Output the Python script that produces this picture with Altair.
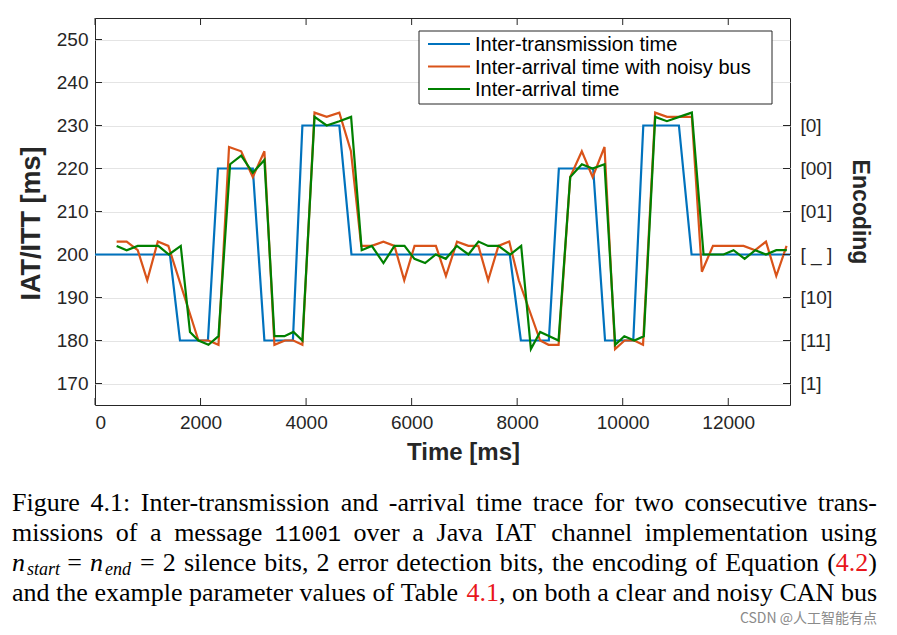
import altair as alt
import pandas as pd

# ---------------- data ----------------
series_names = ["Inter-transmission time", "Inter-arrival time with noisy bus", "Inter-arrival time"]
series_colors = ["#0072BD", "#D95319", "#008000"]

itt_t = [0, 1420, 1610, 2140, 2330, 2990, 3210, 3750, 3930, 4630, 4860, 7860, 8070, 8600,
         8790, 9440, 9665, 10200, 10390, 11065, 11305, 13170]
itt_v = [200, 200, 180, 180, 220, 220, 180, 180, 230, 230, 200, 200, 180, 180,
         220, 220, 180, 180, 230, 230, 200, 200]

noisy_t = [410, 600, 810, 990, 1190, 1390, 1960, 2150, 2340, 2540, 2770, 2990, 3210, 3400,
           3600, 3760, 3930, 4160, 4390, 4630, 4850, 5045, 5245, 5465, 5675, 5860, 6055, 6260,
           6460, 6650, 6860, 7075, 7265, 7450, 7645, 7850, 8030, 8435, 8595, 8785, 9005, 9225,
           9430, 9655, 9855, 10035, 10220, 10385, 10615, 10840, 11065, 11310, 11500, 11710,
           12290, 12510, 12715, 12910, 13105]
noisy_v = [203, 203, 201, 194, 203, 202, 180, 180, 179, 225, 224, 218, 224, 179,
           180, 180, 179, 233, 232, 233, 224, 202, 202, 203, 202, 194, 202, 202,
           202, 195, 203, 202, 202, 194, 202, 203, 194, 180, 179, 179, 218, 224,
           218, 225, 178, 180, 180, 179, 233, 232, 232, 232, 196, 202,
           202, 201, 203, 195, 202]

iat_t = [410, 600, 810, 1200, 1400, 1625, 1800, 1960, 2150, 2340, 2560, 2770, 2990, 3210,
         3400, 3590, 3760, 3930, 4160, 4390, 4630, 4853, 5054, 5245, 5466, 5675, 5865, 6053,
         6256, 6458, 6648, 6857, 7077, 7267, 7450, 7646, 7867, 8076, 8260, 8436, 8610, 8784,
         9005, 9226, 9427, 9655, 9858, 10030, 10220, 10400, 10616, 10837, 11070, 11310,
         11532, 11720, 11911, 12100, 12310, 12512, 12714, 12910, 13110]
iat_v = [202, 201, 202, 202, 200, 202, 182, 180, 179, 181, 221, 223, 219, 222,
         181, 181, 182, 180, 232, 230, 231, 232, 201, 202, 198, 202, 202, 199,
         198, 200, 199, 202, 200, 203, 202, 202, 200, 202, 178, 182, 181, 180,
         218, 221, 220, 221, 179, 181, 180, 181, 232, 231, 232, 233,
         200, 200, 200, 201, 199, 201, 200, 201, 201]

x_ticks = [0, 2000, 4000, 6000, 8000, 10000, 12000]
y_ticks = [170, 180, 190, 200, 210, 220, 230, 240, 250]
enc_values = [230, 220, 210, 200, 190, 180, 170]
enc_labels = ["[0]", "[00]", "[01]", "[ _ ]", "[10]", "[11]", "[1]"]

# caption tokens: (text, kind, glued-to-previous)
# kinds: "r" roman, "i" italic, "sub" italic subscript, "tt" typewriter, "red" red roman
caption_line1 = "Figure 4.1: Inter-transmission and -arrival time trace for two consecutive trans-"
caption_line2 = [("missions of a message", "r", False), ("11001", "tt", False),
                 ("over a Java IAT channel implementation using", "r", False)]
caption_line3 = [("n", "i", False), ("start", "sub", True), ("=", "r", False), ("n", "i", False),
                 ("end", "sub", True),
                 ("= 2 silence bits, 2 error detection bits, the encoding of Equation (", "r", False),
                 ("4.2", "red", True), (")", "r", True)]
caption_line4 = [("and the example parameter values of Table", "r", False), ("4.1", "red", False),
                 (",", "r", True), ("on both a clear and noisy CAN bus", "r", False)]
watermark = "CSDN @人工智能有点"

# ---------------- layout ----------------
W, H = 695, 387
FONT = "Liberation Sans"
SERIF = "Liberation Serif"
AX = "#262626"
RED = "#e8161b"

xscale = alt.Scale(domain=[0, 13170], nice=False, zero=False)
yscale = alt.Scale(domain=[165, 255], nice=False, zero=False)

x_enc = alt.X("t:Q", scale=xscale, axis=alt.Axis(
    values=x_ticks, format="d", title="Time [ms]", grid=False, ticks=False, domain=False,
    labelFontSize=19, labelPadding=8, labelColor=AX, titleFontSize=24, titleFontWeight="bold",
    titleColor=AX, titlePadding=8, titleX=368, labelFont=FONT, titleFont=FONT))
y_enc = alt.Y("v:Q", scale=yscale, axis=alt.Axis(
    values=y_ticks, title="IAT/ITT [ms]", grid=True, gridColor="#e4e4e4", gridWidth=1,
    ticks=False, domain=False, labelFontSize=19, labelPadding=7, labelColor=AX,
    titleFontSize=27, titleFontWeight="bold", titleColor=AX, titlePadding=11, titleY=205,
    labelFont=FONT, titleFont=FONT))

color = alt.Color("series:N", scale=alt.Scale(domain=series_names, range=series_colors),
                  legend=None)


def frame(ts, vs, name):
    return pd.DataFrame({"t": ts, "v": vs, "series": [name] * len(ts)})


def line(df):
    return alt.Chart(df).mark_line(strokeWidth=2.2).encode(x=x_enc, y=y_enc, color=color)


blue = line(frame(itt_t, itt_v, series_names[0]))
orange = line(frame(noisy_t, noisy_v, series_names[1]))
green = line(frame(iat_t, iat_v, series_names[2]))

ytick_df = pd.DataFrame({"v": y_ticks})
xtick_df = pd.DataFrame({"t": x_ticks})
left_ticks = alt.Chart(ytick_df).mark_rule(color=AX, strokeWidth=1).encode(
    y=y_enc, x=alt.value(0), x2=alt.value(7))
bottom_ticks = alt.Chart(xtick_df).mark_rule(color=AX, strokeWidth=1).encode(
    x=x_enc, y=alt.value(H - 7), y2=alt.value(H))
top_ticks = alt.Chart(xtick_df).mark_rule(color=AX, strokeWidth=1).encode(
    x=x_enc, y=alt.value(0), y2=alt.value(7))

main = alt.layer(left_ticks, bottom_ticks, top_ticks, blue, orange, green)

expr = "''"
for v, lab in zip(reversed(enc_values), reversed(enc_labels)):
    expr = f"datum.value == {v} ? '{lab}' : ({expr})"

enc_df = pd.DataFrame({"v": enc_values, "label": enc_labels})
right = alt.Chart(enc_df).mark_rule(color=AX, strokeWidth=1).encode(
    y=alt.Y("v:Q", scale=yscale, axis=alt.Axis(
        orient="right", values=enc_values, labelExpr=expr, title="Encoding",
        grid=False, ticks=False, domain=False, labelFontSize=19, labelPadding=10,
        labelColor=AX, titleFontSize=23, titleFontWeight="bold", titleColor=AX,
        titlePadding=16, labelFont=FONT, titleFont=FONT)),
    x=alt.value(W - 7), x2=alt.value(W))

OX, OY = 95, 18  # page position of plot origin

# ---------------- legend (drawn inside the plot, like MATLAB's) ----------------
one = pd.DataFrame({"k": [0]})
legend_layers = [alt.Chart(one).mark_rect(fill="white", stroke=AX, strokeWidth=1).encode(
    x=alt.value(419 - OX), x2=alt.value(772 - OX), y=alt.value(31 - OY), y2=alt.value(104 - OY))]
for i, (name, col) in enumerate(zip(series_names, series_colors)):
    yy = 44 - OY + 22.5 * i
    nd = pd.DataFrame({"series": [name]})
    legend_layers.append(alt.Chart(nd).mark_rule(color=col, strokeWidth=2.2).encode(
        x=alt.value(428 - OX), x2=alt.value(470 - OX), y=alt.value(yy)))
    legend_layers.append(alt.Chart(nd).mark_text(
        align="left", baseline="middle", font=FONT, fontSize=20, color="black").encode(
        text="series:N", x=alt.value(475 - OX), y=alt.value(yy + 1)))

# ---------------- caption (justified like the LaTeX figure caption) ----------------
TIMES = {" ": 250, "a": 444, "b": 500, "c": 444, "d": 500, "e": 444, "f": 333, "g": 500,
         "h": 500, "i": 278, "j": 278, "k": 500, "l": 278, "m": 778, "n": 500, "o": 500,
         "p": 500, "q": 500, "r": 333, "s": 389, "t": 278, "u": 500, "v": 500, "w": 722,
         "x": 500, "y": 500, "z": 444, "A": 722, "B": 667, "C": 667, "D": 722, "E": 611,
         "F": 556, "G": 722, "H": 722, "I": 333, "J": 389, "K": 722, "L": 611, "M": 889,
         "N": 722, "O": 722, "P": 556, "Q": 722, "R": 667, "S": 556, "T": 611, "U": 722,
         "V": 722, "W": 944, "X": 722, "Y": 722, "Z": 611, ".": 250, ",": 250, ":": 278,
         "-": 333, "(": 333, ")": 333, "=": 564}
CAP = 26
SUB = 18
LEFT, RIGHT = 12, 877


def tok_size(kind):
    return SUB if kind == "sub" else (22 if kind == "tt" else CAP)


def tok_width(text, kind):
    size = tok_size(kind)
    if kind == "tt":
        return 0.6 * size * len(text)
    return sum(TIMES.get(c, 500) for c in text) / 1000 * size


def split_words(tokens):
    out = []
    for text, kind, glued in tokens:
        if kind in ("r", "red") and " " in text:
            for j, w in enumerate(text.split(" ")):
                out.append((w, kind, glued if j == 0 else False))
        else:
            out.append((text, kind, glued))
    return out


def justify(tokens, baseline):
    toks = split_words(tokens)
    widths = [tok_width(t, k) + (3 if k == "sub" else 0) for t, k, g in toks]
    gaps = sum(1 for t, k, g in toks[1:] if not g)
    natural = sum(widths) + gaps * 0.25 * CAP
    space = 0.25 * CAP + (RIGHT - LEFT - natural) / gaps
    layers, x = [], LEFT
    for idx, ((text, kind, glued), w) in enumerate(zip(toks, widths)):
        if idx > 0 and not glued:
            x += space
        font = "Liberation Mono" if kind == "tt" else SERIF
        style = "italic" if kind in ("i", "sub") else "normal"
        col = RED if kind == "red" else "black"
        yy = baseline + (4 if kind == "sub" else 0)
        xx = x + (2 if kind == "sub" else 0)
        layers.append(alt.Chart(pd.DataFrame({"s": [text]})).mark_text(
            align="left", baseline="alphabetic", font=font, fontSize=tok_size(kind),
            fontStyle=style, color=col).encode(
            text="s:N", x=alt.value(xx - OX), y=alt.value(yy - OY)))
        x += w
    return layers


cap = []
cap += justify([(caption_line1, "r", False)], 511)
cap += justify(caption_line2, 541)
cap += justify(caption_line3, 571)
cap += justify(caption_line4, 601)
cap.append(alt.Chart(pd.DataFrame({"s": [watermark]})).mark_text(
    align="right", baseline="middle", font="Noto Sans CJK SC", fontSize=14,
    color="#8a8a8a").encode(text="s:N", x=alt.value(877 - OX), y=alt.value(619 - OY)))

chart = alt.layer(main, right, *legend_layers, *cap).resolve_scale(y="independent").properties(
    width=W, height=H,
    padding={"left": 87, "top": 10, "right": 99, "bottom": 224},
    autosize=alt.AutoSizeParams(type="none"),
    background="white",
).configure_view(stroke=AX, strokeWidth=1)

chart.save("out.html", embed_options={"renderer": "svg", "actions": False})
